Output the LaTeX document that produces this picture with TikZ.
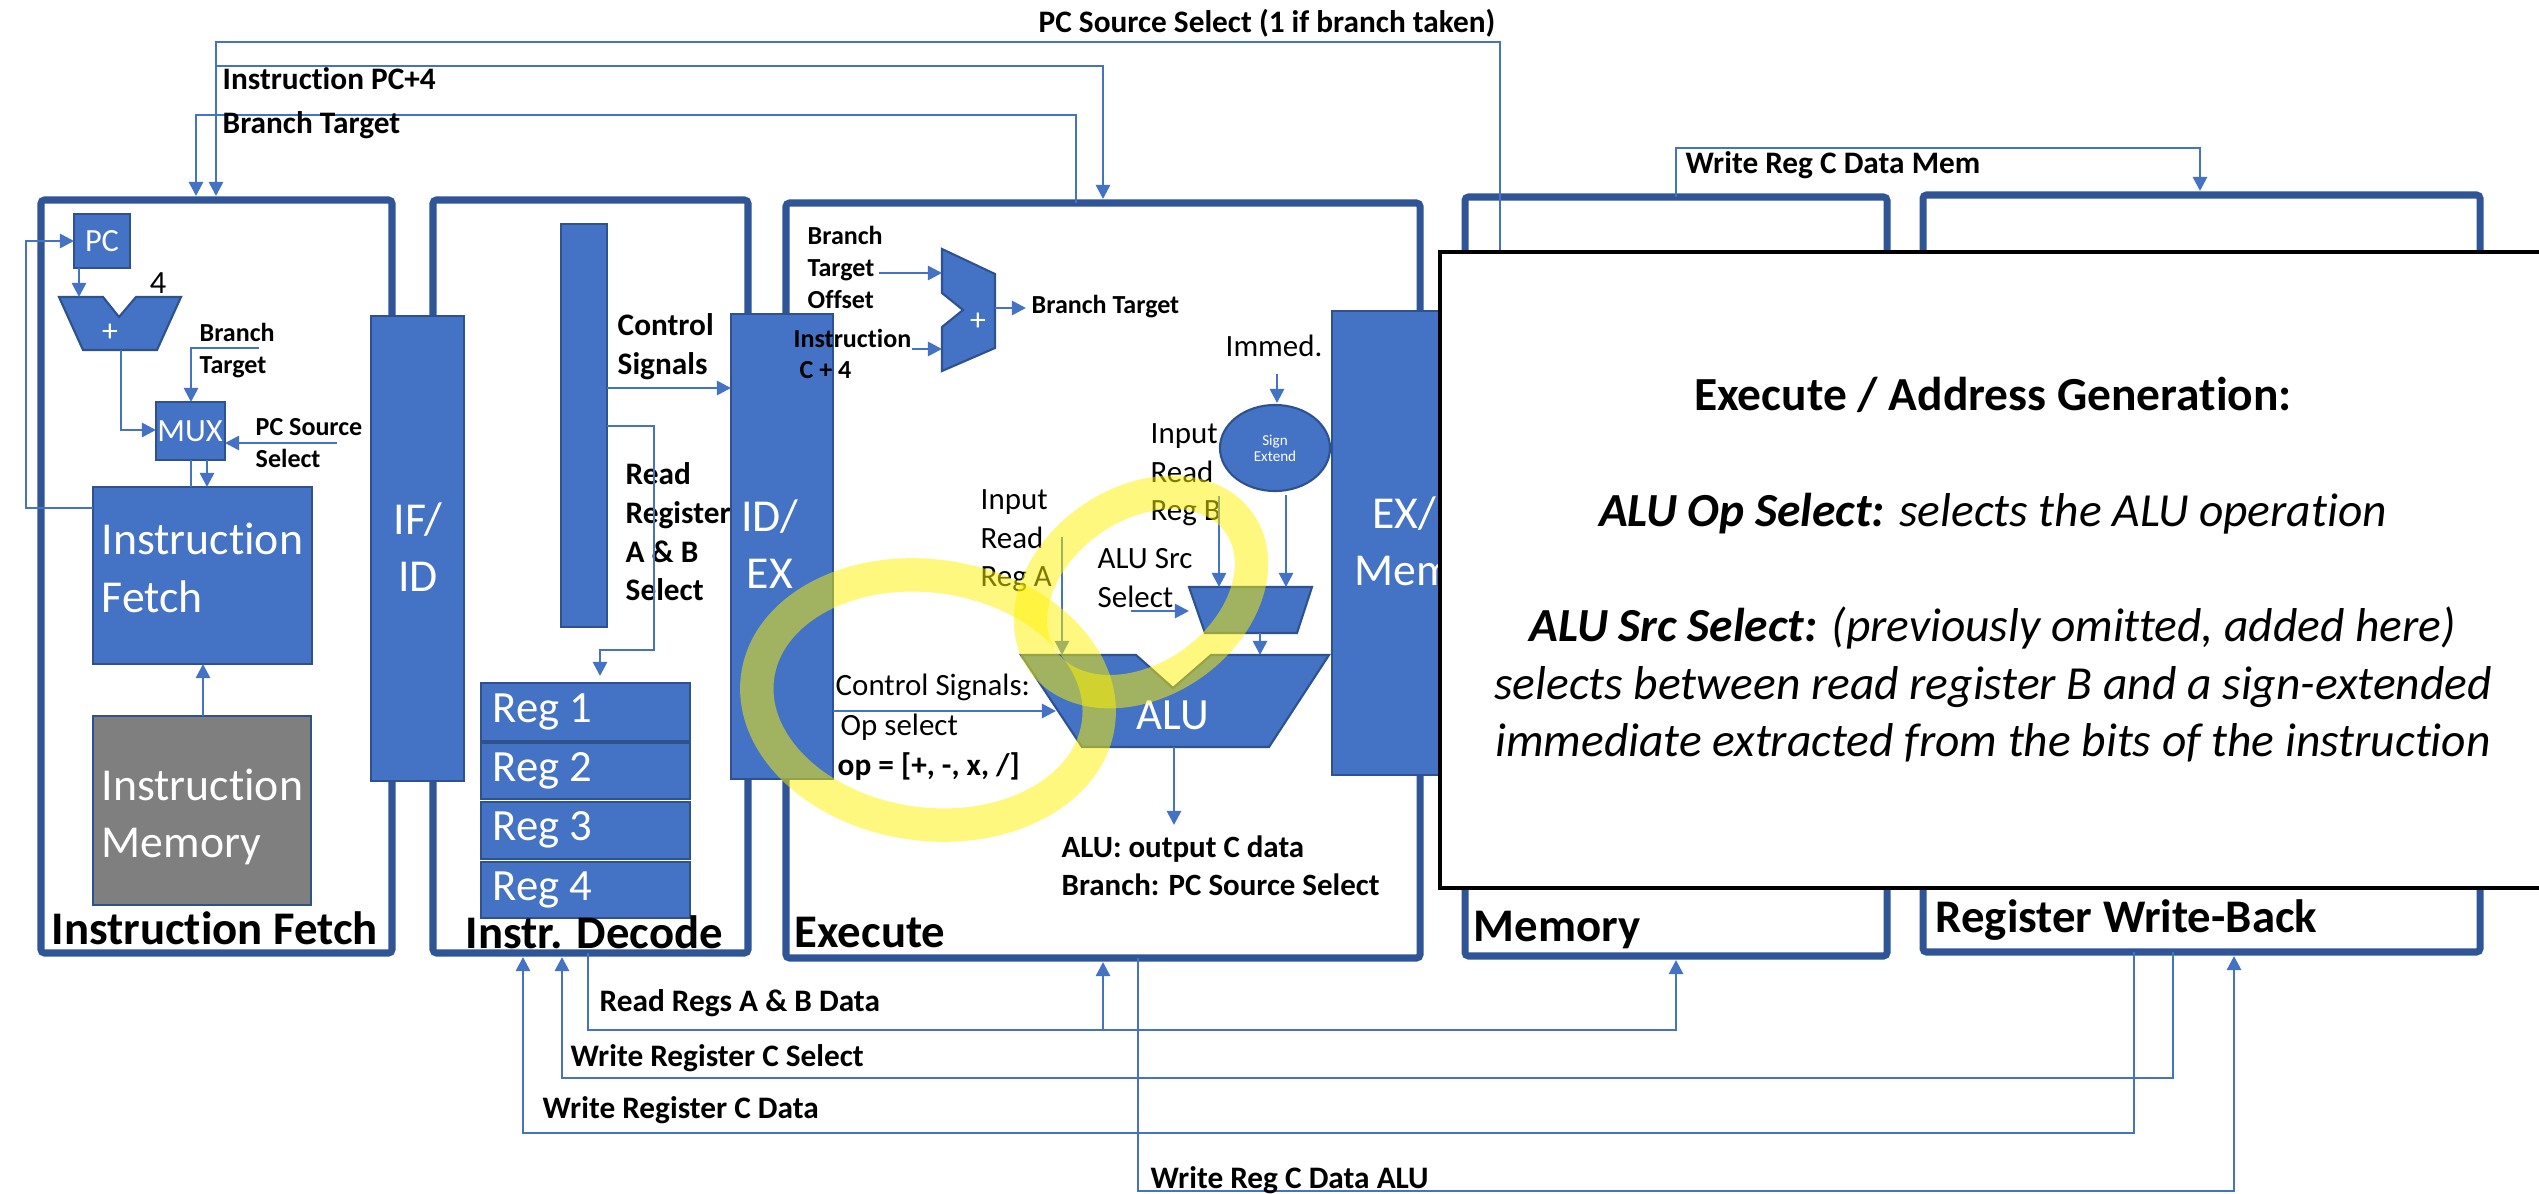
\documentclass[tikz,border=0pt]{standalone}
\usepackage{fontspec}
\setmainfont{Carlito}[Ligatures={NoCommon}]
\usetikzlibrary{arrows.meta,fit,shapes.geometric}
\definecolor{stageblue}{HTML}{2F5597}
\definecolor{fillblue}{HTML}{4472C4}
\definecolor{edgeblue}{HTML}{2F528F}
\definecolor{memgrey}{HTML}{7F7F7F}
\begin{document}
\begin{tikzpicture}[x=0.01cm,y=-0.01cm,
  stage/.style={draw=stageblue, line width=2pt, rounded corners=1pt, inner sep=0pt},
  blk/.style={fill=fillblue, draw=edgeblue, line width=0.6pt, inner sep=0pt, text=white},
  shp/.style={fill=fillblue, draw=edgeblue, line width=0.6pt},
  wire/.style={draw=fillblue, line width=0.75pt},
  arr/.style={wire, -{Triangle[length=4pt,width=4pt]}},
  bl/.style={inner sep=0pt, anchor=west, font=\fontsize{8.9}{11}\selectfont\bfseries, align=left},
  bls/.style={inner sep=0pt, anchor=west, font=\fontsize{7.4}{9.1}\selectfont\bfseries, align=left},
  rl/.style={inner sep=0pt, anchor=west, font=\fontsize{8.8}{10.9}\selectfont, align=left},
  big/.style={inner sep=0pt, anchor=west, font=\fontsize{13.3}{16}\selectfont\bfseries},
  wt/.style={inner sep=0pt, text=white, font=\fontsize{13}{16.3}\selectfont, align=left},
  smallwt/.style={inner sep=0pt, text=white, font=\fontsize{9.2}{10}\selectfont},
  regt/.style={inner sep=0pt, anchor=west, text=white, font=\fontsize{12.7}{15}\selectfont},
  hl/.style={draw=yellow, line width=9.5pt, opacity=0.5},
]
\useasboundingbox[fill=white] (0,0) rectangle (2539,1194);

% ---------------- stage frames
\node[stage, fit={(41,200) (392,953)}] (sIF) {};
\node[stage, fit={(433,200) (748,953)}] (sID) {};
\node[stage, fit={(786,203) (1420,958)}] (sEX) {};
\node[stage, fit={(1465,197) (1887,956)}] (sMEM) {};
\node[stage, fit={(1923,195) (2480,952)}] (sWB) {};

% ---------------- pipeline registers
\node[blk, fit={(371,316) (464,781)}] (ifid) {};
\node[wt, align=center] (ifidT) at (418,547) {IF/\\ID};
\node[blk, fit={(731,314) (833,779)}] (idex) {};
\node[wt, align=center] (idexT) at (770,544) {ID/\\EX};
\node[blk, fit={(1332,311) (1476,775)}] (exmem) {};
\node[wt, align=center] (exmemT) at (1404,541) {EX/\\Mem};

% ---------------- Instruction fetch stage
\node[blk, fit={(74,214) (130,268)}] (pc) {};
\node[smallwt] (pcT) at (102,241) {PC};
\node[blk, fit={(156,402) (225,460)}] (mux) {};
\node[smallwt] (muxT) at (190,431) {MUX};
\node[blk, fit={(93,487) (312,664)}] (ifetch) {};
\node[wt, anchor=west] (ifetchT) at (101,568) {Instruction\\Fetch};
\node[blk, fill=memgrey, fit={(93,716) (311,905)}] (imem) {};
\node[wt, anchor=west] (imemT) at (101,817) {Instruction\\Memory};
\path[shp] (59,297) -- (103,297) -- (119,317) -- (136,297) -- (181,297) -- (157,350) -- (83,350) -- cycle;
\node[inner sep=0pt, text=white, font=\fontsize{9}{10}\selectfont] (addT) at (110,333) {+};
\node[inner sep=0pt, font=\fontsize{9.2}{10}\selectfont] (four) at (158,283) {4};
\node[bls] (ifbt) at (199,351) {Branch\\Target};
\node[bls] (ifpcs) at (255,443) {PC Source\\Select};

\coordinate (pcOut) at (79,268);
\coordinate (addIn) at (79,297);
\coordinate (addOut) at (121,350);
\coordinate (muxIn) at (156,430);
\coordinate (btSrc) at (259,348);
\coordinate (muxTop) at (191,402);
\coordinate (pcsSrc) at (337,443);
\coordinate (muxR) at (225,443);
\coordinate (muxB1) at (191,460);
\coordinate (muxB2) at (207,460);
\coordinate (ifB1) at (191,487);
\coordinate (ifB2) at (207,487);
\coordinate (ifFb) at (93,508);
\coordinate (pcIn) at (74,241);
\coordinate (imemTop) at (203,716);
\coordinate (ifetchBot) at (203,664);
\draw[arr] (pcOut) -- (addIn);
\draw[arr] (addOut) |- (muxIn);
\draw[arr] (btSrc) -| (muxTop);
\draw[arr] (pcsSrc) -- (muxR);
\draw[wire] (muxB1) -- (ifB1);
\draw[arr] (muxB2) -- (ifB2);
\draw[arr] (ifFb) -- (26,508) |- (pcIn);
\draw[arr] (imemTop) -- (ifetchBot);

% ---------------- Instruction decode stage
\node[blk, fit={(561,224) (607,627)}] (ctrl) {};
\node[blk, fit={(481,683) (690,741)}] (r1) {};
\node[blk, fit={(481,743) (690,799)}] (r2) {};
\node[blk, fit={(481,802) (690,859)}] (r3) {};
\node[blk, fit={(481,862) (690,918)}] (r4) {};
\node[regt] (r1T) at (492,712) {Reg 1};
\node[regt] (r2T) at (492,771) {Reg 2};
\node[regt] (r3T) at (492,830) {Reg 3};
\node[regt] (r4T) at (492,890) {Reg 4};
\node[bl] (csT) at (617,347) {Control\\Signals};
\node[bl] (rrT) at (625,532) {Read\\Register\\A \& B\\Select};
\coordinate (ctrlCs) at (607,388);
\coordinate (idexIn) at (731,388);
\coordinate (ctrlRr) at (607,426);
\coordinate (regTop) at (600,676);
\draw[arr] (ctrlCs) -- (idexIn);
\draw[arr] (ctrlRr) -- (654,426) -- (654,650) -| (regTop);

% ---------------- Execute stage
\path[shp] (942,249) -- (995,274) -- (995,348) -- (942,371) -- (942,327) -- (963,310) -- (942,293) -- cycle;
\node[inner sep=0pt, text=white, font=\fontsize{9}{10}\selectfont] (badd) at (978,322) {+};
\node[bls] (btoT) at (807,267) {Branch\\Target\\Offset};
\node[bls] (instT) at (793,338) {Instruction};
\node[bls] (c4T) at (799,370) {C + 4};
\node[bls] (btT) at (1031,307) {Branch Target};
\coordinate (btoSrc) at (879,273);
\coordinate (baddA) at (942,273);
\coordinate (instSrc) at (912,349);
\coordinate (baddB) at (942,349);
\coordinate (baddOut) at (995,308);
\coordinate (btDst) at (1026,308);
\draw[arr] (btoSrc) -- (baddA);
\draw[arr] (instSrc) -- (baddB);
\draw[arr] (baddOut) -- (btDst);

\node[rl] (immT) at (1225,346) {Immed.};
\node[shp, ellipse, minimum width=1.1cm, minimum height=0.86cm, inner sep=0pt, text=white, align=center,
      font=\fontsize{4.3}{4.6}\selectfont] (sx) at (1275,448) {Sign\\Extend};
\coordinate (immSrc) at (1277,374);
\coordinate (sxIn) at (1277,403);
\draw[arr] (immSrc) -- (sxIn);

\node[rl] (rbT) at (1150,475) {Input\\Read\\Reg B};
\node[rl] (raT) at (980,541) {Input\\Read\\Reg A};
\node[rl] (asT) at (1097,578) {ALU Src\\Select};

\path[shp] (1189,587) -- (1312,587) -- (1297,633) -- (1205,633) -- cycle;
\coordinate (rbSrc) at (1219,496);
\coordinate (srcMuxA) at (1219,587);
\coordinate (sxOut) at (1286,495);
\coordinate (srcMuxB) at (1286,587);
\coordinate (asSrc) at (1131,611);
\coordinate (srcMuxL) at (1189,611);
\coordinate (srcMuxOut) at (1260,633);
\coordinate (aluB) at (1260,655);
\coordinate (raSrc) at (1062,537);
\coordinate (aluA) at (1062,655);
\draw[arr] (rbSrc) -- (srcMuxA);
\draw[arr] (sxOut) -- (srcMuxB);
\draw[arr] (asSrc) -- (srcMuxL);
\draw[arr] (srcMuxOut) -- (aluB);
\draw[arr] (raSrc) -- (aluA);

\path[shp] (1021,655) -- (1136,655) -- (1173,688) -- (1211,655) -- (1329,655) -- (1269,747) -- (1082,747) -- cycle;
\node[inner sep=0pt, text=white, font=\fontsize{12.7}{14}\selectfont] (aluT) at (1173,715) {ALU};
\node[rl] (csaT) at (835,687) {Control Signals:};
\node[rl] (opsT) at (840,727) {Op select};
\node[inner sep=0pt, anchor=west, font=\fontsize{8.9}{11}\selectfont\bfseries] (opT) at (837,767) {op = [+, -, x, /]};
\coordinate (idexOp) at (833,711);
\coordinate (aluL) at (1056,711);
\coordinate (aluOut) at (1174,747);
\coordinate (aluRes) at (1174,825);
\draw[arr] (idexOp) -- (aluL);
\draw[arr] (aluOut) -- (aluRes);
\node[inner sep=0pt, anchor=west, align=left, font=\fontsize{8.8}{10.8}\selectfont\bfseries] (aluoT) at (1061,866)
  {ALU: output C data\\Branch: PC Source Select};

% ---------------- stage labels
\node[big] (lIF) at (51,928) {Instruction Fetch};
\node[big] (lID) at (465,932) {Instr. Decode};
\node[big] (lEX) at (794,932) {Execute};
\node[big] (lMEM) at (1473,930) {Memory};
\node[big] (lWB) at (1935,920) {Register Write-Back};

% ---------------- top connectors
\coordinate (ifTopA) at (216,196);
\coordinate (ifTopB) at (196,196);
\coordinate (exTopA) at (1103,199);
\coordinate (exTopB) at (1076,203);
\coordinate (pcsExit) at (1500,320);
\coordinate (pc4Src) at (216,66);
\draw[arr] (pcsExit) -- (1500,42) -| (ifTopA);
\draw[arr] (pc4Src) -| (exTopA);
\draw[arr] (exTopB) -- (1076,115) -| (ifTopB);
\node[bl] (pcsT) at (1038,23) {PC Source Select (1 if branch taken)};
\node[bl] (pc4T) at (222,79) {Instruction PC+4};
\node[bl] (btTopT) at (222,125) {Branch Target};

\coordinate (memTop) at (1676,197);
\coordinate (wbTop) at (2200,191);
\draw[arr] (memTop) -- (1676,148) -| (wbTop);
\node[bl] (wmT) at (1685,165) {Write Reg C Data Mem};

% ---------------- bottom connectors
\coordinate (idB1) at (523,957);
\coordinate (idB2) at (562,957);
\coordinate (idB3) at (588,953);
\coordinate (exB1) at (1103,962);
\coordinate (exB2) at (1138,958);
\coordinate (memB) at (1676,960);
\coordinate (wbB1) at (2134,952);
\coordinate (wbB2) at (2173,952);
\coordinate (wbB3) at (2234,956);
\coordinate (rrJoin) at (1103,1030);
\draw[arr] (idB3) -- (588,1030) -| (memB);
\draw[arr] (rrJoin) -- (exB1);
\draw[arr] (wbB2) -- (2173,1078) -| (idB2);
\draw[arr] (wbB1) -- (2134,1133) -| (idB1);
\draw[arr] (exB2) -- (1138,1191) -| (wbB3);
\node[bl] (rdT) at (599,1003) {Read Regs A \& B Data};
\node[bl] (wsT) at (570,1058) {Write Register C Select};
\node[bl] (wdT) at (542,1110) {Write Register C Data};
\node[bl] (waT) at (1150,1180) {Write Reg C Data ALU};

% ---------------- explanation panel
\node[draw=black, line width=1pt, fill=white, inner sep=0pt, fit={(1440,252) (2570,888)}] (note) {};
\node[inner sep=0pt, align=center, font=\fontsize{13.5}{16.4}\selectfont] (noteT) at (1993,570)
  {\textbf{Execute / Address Generation:}\\ ~ \\
   \textbf{\textit{ALU Op Select:}} \textit{selects the ALU operation}\\ ~ \\
   \textbf{\textit{ALU Src Select:}} \textit{(previously omitted, added here)}\\
   \textit{selects between read register B and a sign-extended}\\
   \textit{immediate extracted from the bits of the instruction}};

% ---------------- highlighter rings
\draw[hl, rotate around={-8:(928,700)}] (928,700) ellipse [x radius=172, y radius=124];
\draw[hl, rotate around={35:(1141,592)}] (1141,592) ellipse [x radius=120, y radius=88];
\end{tikzpicture}
\end{document}
